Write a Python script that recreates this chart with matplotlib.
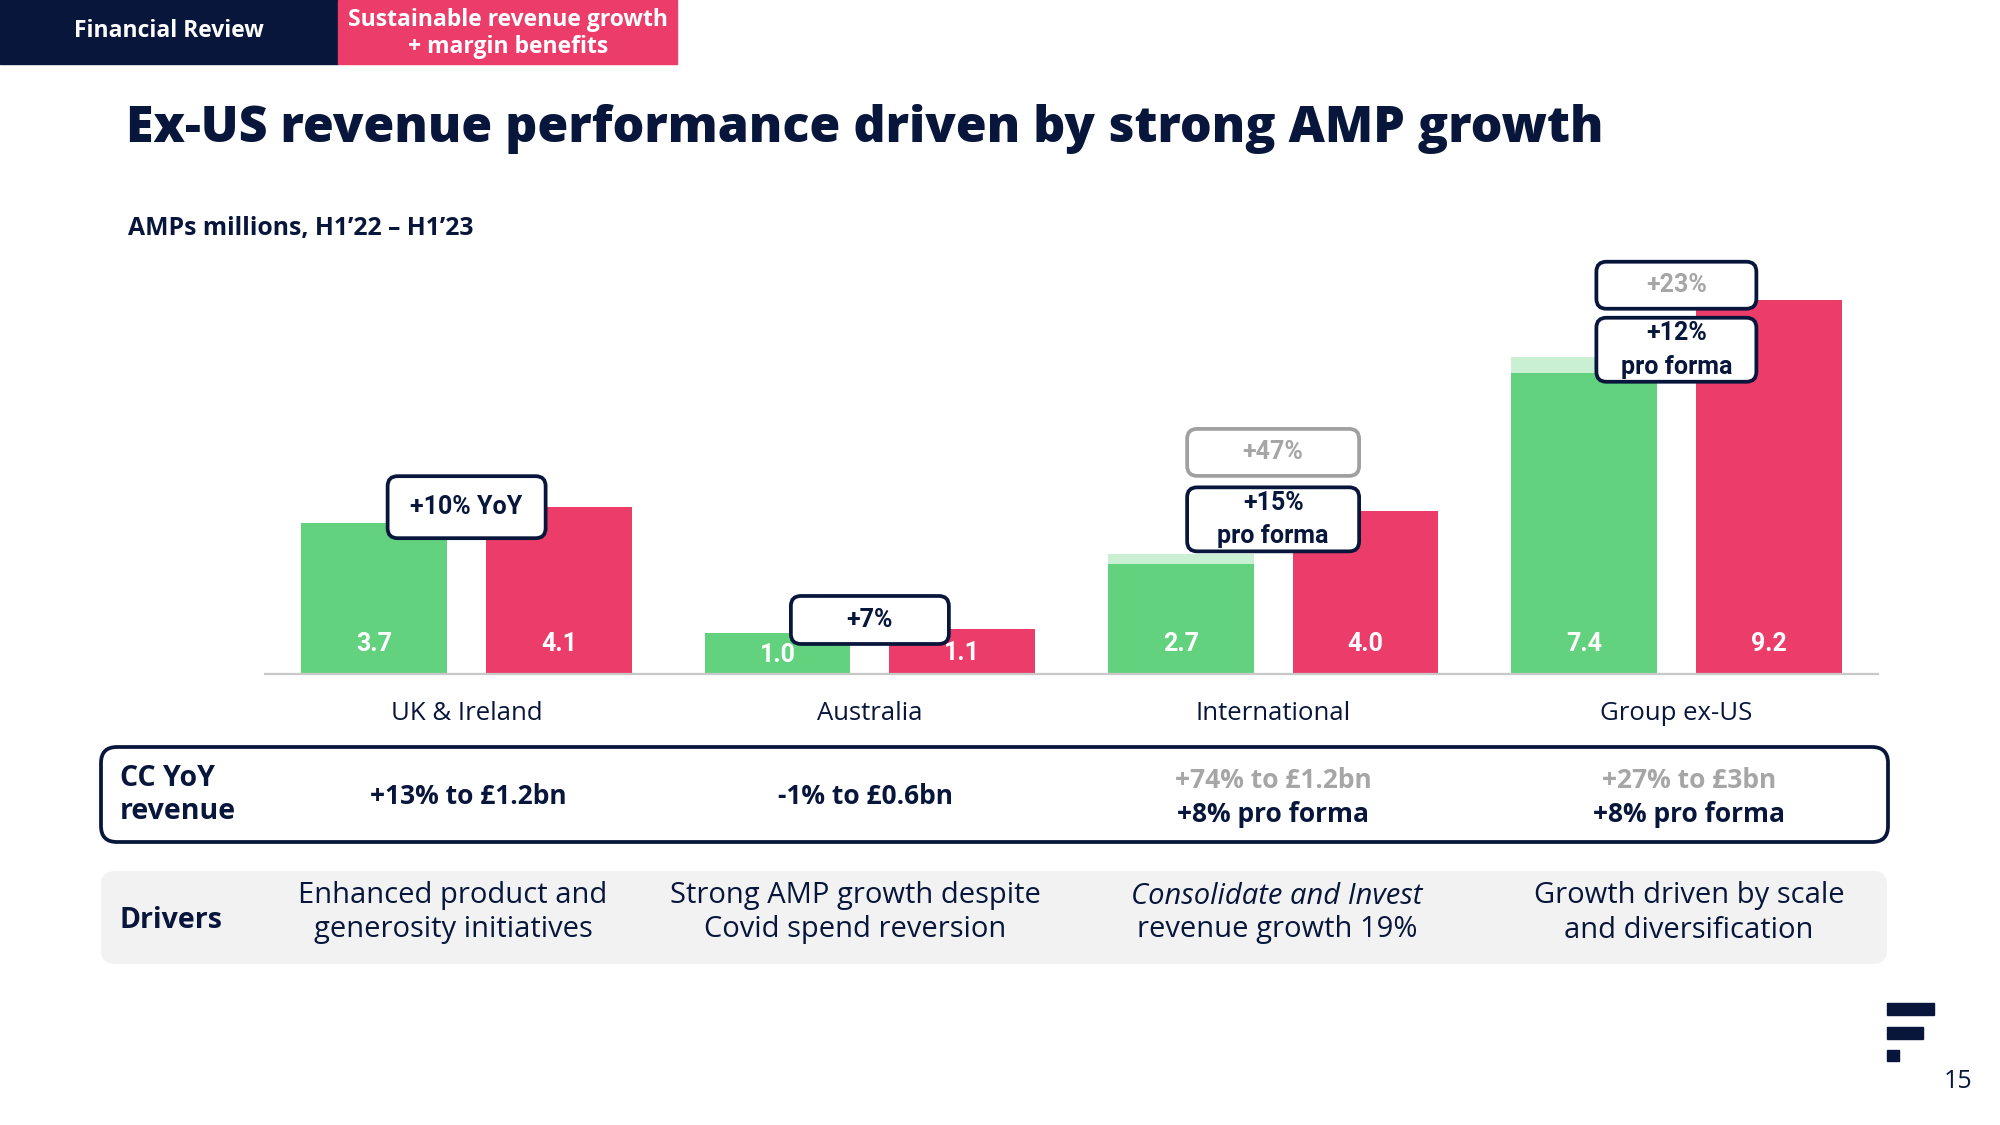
import numpy as np
import matplotlib.pyplot as plt
from matplotlib.patches import FancyBboxPatch, Rectangle

# AMPs millions, H1'22 vs H1'23
categories = ['UK & Ireland', 'Australia', 'International', 'Group ex-US']
amps_h1_22 = [3.7, 1.0, 2.7, 7.4]
amps_h1_22_pro_forma = [3.7, 1.0, 2.95, 7.8]
amps_h1_23 = [4.1, 1.1, 4.0, 9.2]

growth_reported = ['+10% YoY', '+7%', '+47%', '+23%']
growth_pro_forma = [None, None, '+15%', '+12%']

revenue_reported = ['+13% to £1.2bn', '-1% to £0.6bn', '+74% to £1.2bn', '+27% to £3bn']
revenue_pro_forma = [None, None, '+8% pro forma', '+8% pro forma']

drivers = [
    ('Enhanced product and', 'generosity initiatives'),
    ('Strong AMP growth despite', 'Covid spend reversion'),
    ('Consolidate and Invest', 'revenue growth 19%'),
    ('Growth driven by scale', 'and diversification'),
]
drivers_italic = [False, False, True, False]

NAVY = '#07163a'
PINK = '#ec3c6a'
GREEN = '#63d27f'
LIGHT_GREEN = '#c9f0d3'
GREY_TXT = '#a6a6a6'
GREY_EDGE = '#a0a0a0'

plt.rcParams['font.family'] = ['Open Sans', 'DejaVu Sans']
NARROW = ['Roboto', 'DejaVu Sans']

fig = plt.figure(figsize=(20, 11.25), dpi=100)

# bar chart
ax = fig.add_axes([0.1325, 0.4013, 0.8065, 0.3787])
idx = np.arange(len(categories))
width = 0.361
off = 0.229
ax.bar(idx - off, amps_h1_22_pro_forma, width, color=LIGHT_GREEN)
ax.bar(idx - off, amps_h1_22, width, color=GREEN)
ax.bar(idx + off, amps_h1_23, width, color=PINK)
ax.set_xlim(-0.5, 3.5)
ax.set_ylim(0, 10.5)
for s in ['top', 'right', 'left']:
    ax.spines[s].set_visible(False)
ax.spines['bottom'].set_color('#c8c8c8')
ax.spines['bottom'].set_linewidth(1.6)
ax.set_xticks([])
ax.set_yticks([])

for i in idx:
    for x, v in [(i - off, amps_h1_22[i]), (i + off, amps_h1_23[i])]:
        ax.text(x, min(0.72, 0.45 * v), '{:.1f}'.format(v), ha='center', va='center',
                color='white', fontsize=18, fontweight='bold', family=NARROW)

# overlay in pixel coordinates (y down)
lay = fig.add_axes([0, 0, 1, 1], zorder=5)
lay.set_xlim(0, 2000)
lay.set_ylim(1125, 0)
lay.axis('off')
lay.patch.set_alpha(0)


def to_px(x, y):
    d = ax.transData.transform((x, y))
    return lay.transData.inverted().transform(d)


def rbox(cx, cy, w, h, edge, face='white', lw=2.7, r=10):
    p = FancyBboxPatch((cx - w / 2, cy - h / 2), w, h,
                       boxstyle='round,pad=0,rounding_size={}'.format(r),
                       fc=face, ec=edge, lw=lw)
    lay.add_patch(p)


# header
lay.add_patch(Rectangle((0, 0), 338, 64, color=NAVY))
lay.add_patch(Rectangle((338, 0), 339, 64, color=PINK))
lay.text(169, 31, 'Financial Review', color='white', fontsize=16.5,
         fontweight='bold', ha='center', va='center')
lay.text(508, 20, 'Sustainable revenue growth', color='white',
         fontsize=16.5, fontweight='bold', ha='center', va='center')
lay.text(508, 47, '+ margin benefits', color='white',
         fontsize=16.5, fontweight='bold', ha='center', va='center')

lay.text(126, 129, 'Ex-US revenue performance driven by strong AMP growth', color=NAVY,
         fontsize=36, fontweight='heavy', ha='left', va='center')
lay.text(128, 228, 'AMPs millions, H1\u201922 \u2013 H1\u201923', color=NAVY,
         fontsize=17.8, fontweight='bold', ha='left', va='center')

# category labels
for i, c in enumerate(categories):
    cx, _ = to_px(i, 0)
    lay.text(cx, 714, c, color=NAVY, fontsize=18.5, ha='center', va='center')

# growth boxes
box_y_reported = [4.1, 1.32, 5.45, 9.57]
box_h_reported = [62, 48, 47, 47]
box_w = [158, 158, 172, 160]
edge_reported = [NAVY, NAVY, GREY_EDGE, NAVY]
box_y_pro_forma = [None, None, 3.8, 7.98]
for i in idx:
    cx, cy = to_px(i, box_y_reported[i])
    col = GREY_TXT if growth_pro_forma[i] else NAVY
    rbox(cx, cy, box_w[i], box_h_reported[i], edge_reported[i])
    lay.text(cx, cy, growth_reported[i], color=col, fontsize=18, fontweight='bold',
             family=NARROW, ha='center', va='center')
    if growth_pro_forma[i]:
        cx, cy = to_px(i, box_y_pro_forma[i])
        rbox(cx, cy, box_w[i], 64, NAVY)
        lay.text(cx, cy - 16.5, growth_pro_forma[i], color=NAVY, fontsize=18,
                 fontweight='bold', family=NARROW, ha='center', va='center')
        lay.text(cx, cy + 17, 'pro forma', color=NAVY, fontsize=18,
                 fontweight='bold', family=NARROW, ha='center', va='center')

# CC YoY revenue row
rbox(994.5, 794.5, 1787, 95, NAVY, r=16)
lay.text(120, 795, 'CC YoY\nrevenue', color=NAVY, fontsize=20.5, fontweight='bold',
         ha='left', va='center', linespacing=1.2)
row_x = [468, 865, 1273, 1689]
for i in idx:
    if revenue_pro_forma[i]:
        lay.text(row_x[i], 780, revenue_reported[i], color=GREY_TXT, fontsize=19,
                 fontweight='bold', ha='center', va='center')
        lay.text(row_x[i], 814, revenue_pro_forma[i], color=NAVY, fontsize=19,
                 fontweight='bold', ha='center', va='center')
    else:
        lay.text(row_x[i], 797, revenue_reported[i], color=NAVY, fontsize=19,
                 fontweight='bold', ha='center', va='center')

# drivers row
rbox(994, 917.5, 1786, 93, 'none', face='#f2f2f2', lw=0, r=14)
lay.text(120, 921, 'Drivers', color=NAVY, fontsize=20.5, fontweight='bold',
         ha='left', va='center')
drivers_x = [453, 855, 1277, 1689]
for i in idx:
    l1, l2 = drivers[i]
    lay.text(drivers_x[i], 896, l1, color=NAVY, fontsize=21, ha='center', va='center',
             style='italic' if drivers_italic[i] else 'normal')
    lay.text(drivers_x[i], 930, l2, color=NAVY, fontsize=21, ha='center', va='center')

# logo + page number
for x0, y0, w in [(1887, 1003, 47), (1887, 1027, 35.5), (1887, 1049.5, 12)]:
    lay.add_patch(Rectangle((x0, y0), w, 11.5, color=NAVY))
lay.text(1958, 1082, '15', color=NAVY, fontsize=18, ha='center', va='center')

fig.savefig('out.png', dpi=100)
